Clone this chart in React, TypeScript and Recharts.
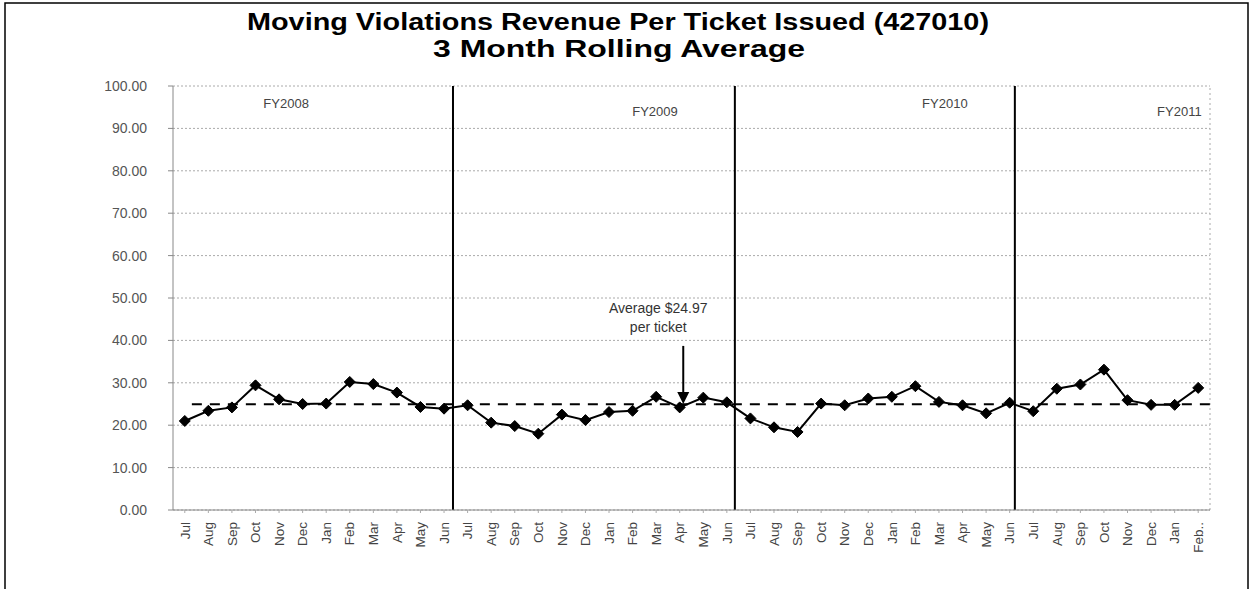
import React from 'react';
import { LineChart, Line, XAxis, YAxis, CartesianGrid, ReferenceLine, ReferenceDot } from 'recharts';

const monthLabels = [
  'Jul','Aug','Sep','Oct','Nov','Dec','Jan','Feb','Mar','Apr','May','Jun',
  'Jul','Aug','Sep','Oct','Nov','Dec','Jan','Feb','Mar','Apr','May','Jun',
  'Jul','Aug','Sep','Oct','Nov','Dec','Jan','Feb','Mar','Apr','May','Jun',
  'Jul','Aug','Sep','Oct','Nov','Dec','Jan','Feb..',
];

const fy2008 = [21.0, 23.4, 24.2, 29.4, 26.1, 25.0, 25.1, 30.2, 29.7, 27.7, 24.3, 23.9];
const fy2009 = [24.7, 20.6, 19.8, 18.0, 22.5, 21.2, 23.1, 23.4, 26.7, 24.2, 26.5, 25.4];
const fy2010 = [21.6, 19.5, 18.4, 25.1, 24.7, 26.3, 26.7, 29.2, 25.5, 24.7, 22.8, 25.3];
const fy2011 = [23.3, 28.6, 29.6, 33.1, 25.9, 24.8, 24.8, 28.8];

const average = 24.97;
const yTicks = [0, 10, 20, 30, 40, 50, 60, 70, 80, 90, 100];
const fyLabels = [
  { name: 'FY2008', x: 4.3, y: 96 },
  { name: 'FY2009', x: 19.95, y: 93.9 },
  { name: 'FY2010', x: 32.25, y: 96 },
  { name: 'FY2011', x: 42.2, y: 94.1 },
];
const fyBoundaries = [11.38, 23.34, 35.22];

const allValues = [...fy2008, ...fy2009, ...fy2010, ...fy2011];
const data = allValues.map((v, i) => ({ i, v, label: monthLabels[i] }));
const xTicks = data.map((d) => d.i);

const FONT = '"Liberation Sans", Arial, sans-serif';

const Diamond = (props: any) => {
  const { cx, cy, index } = props;
  if (cx == null || cy == null) return null;
  const s = 5.5;
  return (
    <path
      key={`d-${index}`}
      d={`M${cx},${cy - s}L${cx + s},${cy}L${cx},${cy + s}L${cx - s},${cy}Z`}
      fill="#000"
      stroke="#000"
      strokeWidth={1}
    />
  );
};

const XTick = (props: any) => {
  const { x, y, payload } = props;
  const ty = y + 7;
  return (
    <text
      x={x}
      y={ty}
      transform={`rotate(-90, ${x}, ${ty})`}
      textAnchor="end"
      dy="0.35em"
      fontSize={13.5}
      fontFamily={FONT}
      fill="#444"
    >
      {monthLabels[payload.value]}
    </text>
  );
};

const ArrowShape = (props: any) => {
  const { x1, y1, x2, y2 } = props;
  if (x1 == null) return null;
  const head = 12;
  return (
    <g>
      <text x={x1 - 25} y={y1 - 33} textAnchor="middle" fontSize={14} fontFamily={FONT} fill="#333">
        Average $24.97
      </text>
      <text x={x1 - 25} y={y1 - 14} textAnchor="middle" fontSize={14} fontFamily={FONT} fill="#333">
        per ticket
      </text>
      <line x1={x1} y1={y1} x2={x2} y2={y2 - head} stroke="#000" strokeWidth={2} />
      <polygon points={`${x2 - 6},${y2 - head} ${x2 + 6},${y2 - head} ${x2},${y2}`} fill="#000" />
    </g>
  );
};

export default function App() {
  return (
    <div style={{ position: 'absolute', left: 0, top: 0, width: 1253, height: 589, background: '#fff', overflow: 'hidden' }}>
      <style>{`body{margin:0;overflow:hidden;}`}</style>
      <LineChart
        width={1253}
        height={589}
        data={data}
        margin={{ top: 86, right: 43, bottom: 29, left: 113 }}
      >
        <CartesianGrid vertical={false} stroke="#aaa" strokeDasharray="2 2" />
        <XAxis
          type="number"
          dataKey="i"
          domain={[-0.5, 43.5]}
          ticks={xTicks}
          interval={0}
          allowDataOverflow
          height={50}
          tick={<XTick />}
          tickSize={3}
          axisLine={{ stroke: '#888' }}
          tickLine={{ stroke: '#aaa' }}
        />
        <YAxis
          type="number"
          domain={[0, 100]}
          ticks={yTicks}
          interval={0}
          width={60}
          tickFormatter={(v: number) => v.toFixed(2)}
          tick={{ fontSize: 14, fontFamily: FONT, fill: '#555' }}
          tickSize={5}
          tickMargin={21}
          axisLine={{ stroke: '#888' }}
          tickLine={{ stroke: '#888' }}
        />
        <ReferenceLine x={43.5} stroke="#aaa" strokeDasharray="2 3" />
        {fyBoundaries.map((b) => (
          <ReferenceLine key={`b-${b}`} x={b} stroke="#000" strokeWidth={2} />
        ))}
        <ReferenceLine
          segment={[{ x: 0.3, y: average }, { x: 43.5, y: average }]}
          stroke="#000"
          strokeWidth={2}
          strokeDasharray="10 8"
        />
        {fyLabels.map((f) => (
          <ReferenceDot
            key={f.name}
            x={f.x}
            y={f.y}
            r={0}
            fill="none"
            stroke="none"
            label={{ value: f.name, position: 'center', fontSize: 13, fontFamily: FONT, fill: '#444' }}
          />
        ))}
        <ReferenceLine
          segment={[{ x: 21.15, y: 38.7 }, { x: 21.15, y: 25.0 }]}
          shape={<ArrowShape />}
        />
        <Line
          type="linear"
          dataKey="v"
          stroke="#000"
          strokeWidth={2}
          dot={<Diamond />}
          activeDot={false}
          isAnimationActive={false}
        />
      </LineChart>
      <svg width={1253} height={589} style={{ position: 'absolute', left: 0, top: 0, pointerEvents: 'none' }}>
        <text x={618} y={30} textAnchor="middle" fontSize={23} fontWeight="bold" fontFamily={FONT} fill="#000" textLength={742} lengthAdjust="spacingAndGlyphs">
          Moving Violations Revenue Per Ticket Issued (427010)
        </text>
        <text x={619} y={57} textAnchor="middle" fontSize={23} fontWeight="bold" fontFamily={FONT} fill="#000" textLength={372} lengthAdjust="spacingAndGlyphs">
          3 Month Rolling Average
        </text>
        <rect x={5} y={3} width={1243} height={620} fill="none" stroke="#000" strokeWidth={1.5} />
      </svg>
    </div>
  );
}
